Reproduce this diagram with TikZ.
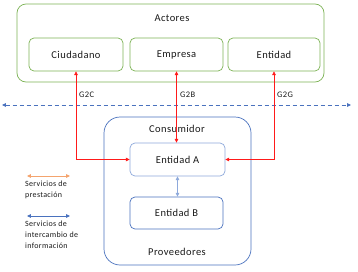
\documentclass[tikz,border=0pt]{standalone}
\usepackage{fontspec}
\setmainfont{Carlito}[LetterSpace=4]
\usetikzlibrary{arrows.meta}
\definecolor{actverde}{HTML}{7DB356}
\definecolor{actazul}{HTML}{4A72BE}
\definecolor{actazulclaro}{HTML}{8EA9DB}
\definecolor{actrojo}{HTML}{FF1A1A}
\definecolor{actnaranja}{HTML}{F4A46E}
\definecolor{acttexto}{HTML}{1A1A1A}

\tikzset{
  caja/.style={draw=#1, rounded corners=5pt, line width=0.7pt, fill=white,
    font=\fontsize{10.5}{12}\selectfont, text=acttexto},
  flecha/.style={arrows={Stealth[length=3.8pt,width=3.6pt,inset=0pt]-Stealth[length=3.8pt,width=3.6pt,inset=0pt]}, line width=0.6pt},
  etiqueta/.style={font=\fontsize{8.5}{10}\selectfont, text=acttexto, inner sep=1pt},
  leyenda/.style={font=\fontsize{8}{11}\selectfont, text=acttexto, align=left, anchor=north west, inner sep=1pt},
}

\begin{document}
\begin{tikzpicture}[x=1pt, y=-1pt]
\useasboundingbox (0,0) rectangle (358,271);
% actores
\node[caja=actverde, rounded corners=9pt, minimum width=307pt, minimum height=78pt] (actores) at (170.5,43) {};
\node[font=\fontsize{10.5}{12}\selectfont, text=acttexto] (tactores) at (172,18) {Actores};
\node[caja=actverde, minimum width=94pt, minimum height=33pt] (ciudadano) at (76,54.5) {Ciudadano};
\node[caja=actverde, minimum width=93pt, minimum height=33pt] (empresa) at (176.5,54.5) {Empresa};
\node[caja=actverde, minimum width=92pt, minimum height=33pt] (entidad) at (274,54.5) {Entidad};
% linea punteada
\coordinate (izq) at (2,105);
\coordinate (der) at (351,105);
\draw[flecha, draw=actazul, dash pattern=on 4pt off 3pt, line width=0.6pt] (izq) -- (der);
% consumidor / proveedores
\node[caja=actazul, rounded corners=16pt, minimum width=147pt, minimum height=148pt] (consumidor) at (177.5,191) {};
\node[font=\fontsize{10.5}{12}\selectfont, text=acttexto] (tconsumidor) at (177,129) {Consumidor};
\node[font=\fontsize{10.5}{12}\selectfont, text=acttexto] (tproveedores) at (177,252) {Proveedores};
\node[caja=actazulclaro, minimum width=95pt, minimum height=33pt] (entA) at (177.5,159.5) {Entidad A};
\node[caja=actazul, minimum width=93pt, minimum height=32pt] (entB) at (176.5,213) {Entidad B};
% servicios G2C, G2B, G2G
\draw[flecha, draw=actrojo] (ciudadano.south) |- (entA.west);
\draw[flecha, draw=actrojo] (empresa.south) -- (empresa.south |- entA.north);
\draw[flecha, draw=actrojo] (entidad.south) |- (entA.east);
\node[etiqueta, anchor=west] (g2c) at (78,95) {G2C};
\node[etiqueta, anchor=west] (g2b) at (179,95) {G2B};
\node[etiqueta, anchor=west] (g2g) at (276,95) {G2G};
\draw[flecha, draw=actazulclaro] (entA.south) -- (entA.south |- entB.north);
% leyenda
\coordinate (l1a) at (27,176);
\coordinate (l1b) at (70,176);
\coordinate (l2a) at (27,216);
\coordinate (l2b) at (70,216);
\draw[flecha, draw=actnaranja] (l1a) -- (l1b);
\draw[flecha, draw=actazul] (l2a) -- (l2b);
\node[leyenda] (lprest) at (24,180) {Servicios de\\prestación};
\node[leyenda] (linter) at (24,220) {Servicios de\\intercambio de\\información};
\end{tikzpicture}
\end{document}
